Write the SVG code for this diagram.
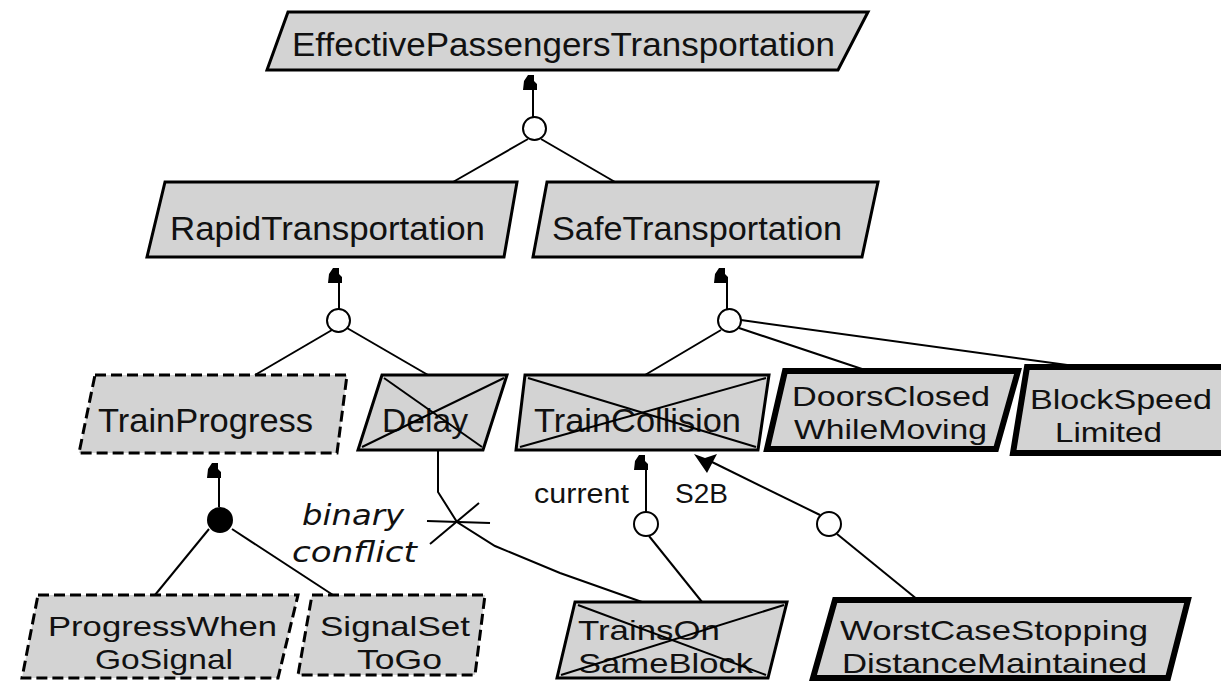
<svg xmlns="http://www.w3.org/2000/svg" width="1221" height="682" viewBox="0 0 1221 682">
<style>
.box{fill:#d3d3d3;stroke:#000;stroke-width:3;stroke-linejoin:miter}
.dash{stroke-dasharray:11 5}
.thick{stroke-width:6}
.x{fill:none;stroke:#000;stroke-width:2}
.t{font-family:"Liberation Sans",Arial,sans-serif;font-size:33px;fill:#111}
.t2{font-family:"Liberation Sans",Arial,sans-serif;font-size:28px;fill:#111}
.lbl{font-family:"Liberation Sans",Arial,sans-serif;font-size:27px;fill:#111}
.it{font-family:"DejaVu Sans",sans-serif;font-style:italic;font-size:28px;fill:#111}
.ln{fill:none;stroke:#000;stroke-width:2}
.oc{fill:#fff;stroke:#000;stroke-width:2}
.fc{fill:#000;stroke:#000;stroke-width:2}
.mk{fill:#000}
</style>
<defs>
<path id="flag" d="M-8 0 L-7 -9 L-3 -15 L3 -15 L3 -9 L6 -6 L6 0 Z"/>
</defs>
<rect width="1221" height="682" fill="#fff"/>

<g id="connectors">
  <use href="#flag" class="mk" x="531" y="90"/>
  <line class="ln" x1="533" y1="90" x2="533" y2="117"/>
  <circle class="oc" cx="534.5" cy="128.5" r="11.5"/>
  <line class="ln" x1="528" y1="139" x2="453" y2="182"/>
  <line class="ln" x1="541" y1="139" x2="615" y2="182"/>

  <use href="#flag" class="mk" x="336" y="283"/>
  <line class="ln" x1="339" y1="283" x2="339" y2="309"/>
  <circle class="oc" cx="338.5" cy="320.5" r="11.5"/>
  <line class="ln" x1="332" y1="330" x2="255" y2="375"/>
  <line class="ln" x1="347" y1="328" x2="428" y2="375"/>

  <use href="#flag" class="mk" x="722" y="283"/>
  <line class="ln" x1="727" y1="283" x2="727" y2="309"/>
  <circle class="oc" cx="729.5" cy="320.5" r="11.5"/>
  <line class="ln" x1="721" y1="330" x2="645" y2="375"/>
  <line class="ln" x1="739" y1="328" x2="868" y2="371"/>
  <line class="ln" x1="741" y1="320" x2="1082" y2="367"/>

  <use href="#flag" class="mk" x="215" y="478"/>
  <line class="ln" x1="219" y1="478" x2="219" y2="507"/>
  <circle class="fc" cx="220" cy="520" r="12"/>
  <line class="ln" x1="209" y1="529" x2="155" y2="595"/>
  <line class="ln" x1="232" y1="529" x2="333" y2="595"/>

  <polyline class="ln" points="438,450 438,492 457,522 495,546 560,573 642,602"/>
  <line class="ln" x1="427" y1="521" x2="490" y2="523"/>
  <line class="ln" x1="430" y1="544" x2="479" y2="503"/>

  <use href="#flag" class="mk" x="642" y="470"/>
  <line class="ln" x1="646" y1="468" x2="646" y2="512"/>
  <circle class="oc" cx="646" cy="524" r="12"/>
  <line class="ln" x1="649" y1="536" x2="702" y2="602"/>

  <path class="mk" d="M694 454 L705 458 L717 454 L707 473 Z"/>
  <line class="ln" x1="712" y1="462" x2="820" y2="515"/>
  <circle class="oc" cx="829" cy="524" r="12"/>
  <line class="ln" x1="837" y1="534" x2="918" y2="600"/>

  <text class="lbl" x="534" y="503" textLength="95" lengthAdjust="spacingAndGlyphs">current</text>
  <text class="lbl" x="675" y="503" textLength="53" lengthAdjust="spacingAndGlyphs">S2B</text>
  <text class="it" x="302" y="525" textLength="102" lengthAdjust="spacingAndGlyphs">binary</text>
  <text class="it" x="292" y="562" textLength="125" lengthAdjust="spacingAndGlyphs">conflict</text>
</g>

<g id="EffectivePassengersTransportation">
  <polygon class="box" points="288,12 868,12 838,70 267,70"/>
  <text class="t" x="292" y="56" textLength="543" lengthAdjust="spacingAndGlyphs">EffectivePassengersTransportation</text>
</g>
<g id="RapidTransportation">
  <polygon class="box" points="165,182 517,182 504,257 147,257"/>
  <text class="t" x="170" y="240" textLength="315" lengthAdjust="spacingAndGlyphs">RapidTransportation</text>
</g>
<g id="SafeTransportation">
  <polygon class="box" points="547,182 878,182 862,257 533,257"/>
  <text class="t" x="552" y="240" textLength="290" lengthAdjust="spacingAndGlyphs">SafeTransportation</text>
</g>
<g id="TrainProgress">
  <polygon class="box dash" points="95,375 347,375 337,453 79,453"/>
  <text class="t" x="98" y="432" textLength="215" lengthAdjust="spacingAndGlyphs">TrainProgress</text>
</g>
<g id="Delay">
  <polygon class="box" points="382,375 507,375 483,450 358,450"/>
  <text class="t" x="382" y="432" textLength="86" lengthAdjust="spacingAndGlyphs">Delay</text>
  <line class="x" x1="384" y1="378" x2="482" y2="447"/>
  <line class="x" x1="504" y1="378" x2="362" y2="447"/>
</g>
<g id="TrainCollision">
  <polygon class="box" points="525,375 769,375 758,450 516,450"/>
  <text class="t" x="534" y="432" textLength="207" lengthAdjust="spacingAndGlyphs">TrainCollision</text>
  <line class="x" x1="528" y1="378" x2="756" y2="447"/>
  <line class="x" x1="766" y1="378" x2="520" y2="447"/>
</g>
<g id="DoorsClosedWhileMoving">
  <polygon class="box thick" points="785,371 1018,371 996,449 767,449"/>
  <text class="t2" x="792" y="406" textLength="198" lengthAdjust="spacingAndGlyphs">DoorsClosed</text>
  <text class="t2" x="794" y="439" textLength="193" lengthAdjust="spacingAndGlyphs">WhileMoving</text>
</g>
<g id="BlockSpeedLimited">
  <polygon class="box thick" points="1027,367 1240,367 1225,453 1013,453"/>
  <text class="t2" x="1030" y="409" textLength="182" lengthAdjust="spacingAndGlyphs">BlockSpeed</text>
  <text class="t2" x="1055" y="442" textLength="107" lengthAdjust="spacingAndGlyphs">Limited</text>
</g>
<g id="ProgressWhenGoSignal">
  <polygon class="box dash" points="38,595 298,595 278,678 22,678"/>
  <text class="t2" x="48" y="636" textLength="229" lengthAdjust="spacingAndGlyphs">ProgressWhen</text>
  <text class="t2" x="95" y="669" textLength="138" lengthAdjust="spacingAndGlyphs">GoSignal</text>
</g>
<g id="SignalSetToGo">
  <polygon class="box dash" points="312,595 485,595 475,675 298,675"/>
  <text class="t2" x="320" y="636" textLength="150" lengthAdjust="spacingAndGlyphs">SignalSet</text>
  <text class="t2" x="357" y="669" textLength="85" lengthAdjust="spacingAndGlyphs">ToGo</text>
</g>
<g id="TrainsOnSameBlock">
  <polygon class="box" points="575,602 787,602 768,678 557,678"/>
  <text class="t2" x="578" y="640" textLength="142" lengthAdjust="spacingAndGlyphs">TrainsOn</text>
  <text class="t2" x="578" y="673" textLength="175" lengthAdjust="spacingAndGlyphs">SameBlock</text>
  <line class="x" x1="578" y1="605" x2="766" y2="675"/>
  <line class="x" x1="784" y1="605" x2="561" y2="675"/>
</g>
<g id="WorstCaseStoppingDistanceMaintained">
  <polygon class="box thick" points="835,600 1188,600 1168,678 813,678"/>
  <text class="t2" x="840" y="640" textLength="308" lengthAdjust="spacingAndGlyphs">WorstCaseStopping</text>
  <text class="t2" x="842" y="673" textLength="305" lengthAdjust="spacingAndGlyphs">DistanceMaintained</text>
</g>
</svg>
